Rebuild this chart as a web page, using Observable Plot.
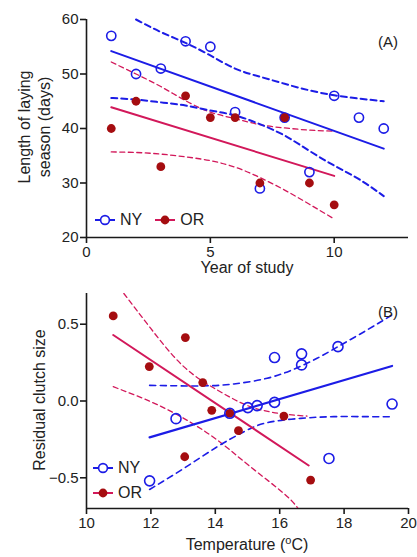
<!DOCTYPE html>
<html><head><meta charset="utf-8">
<script src="https://cdn.jsdelivr.net/npm/d3@7"></script>
<script src="https://cdn.jsdelivr.net/npm/@observablehq/plot@0.6"></script>
<style>
body{margin:0;background:#fff;font-family:"Liberation Sans",Arial,sans-serif;color:#222;}
.panel{position:relative;width:417px;overflow:hidden;}
.panel svg{display:block;}
.lab{position:absolute;font-size:16px;white-space:nowrap;line-height:20px;transform:translate(-50%,-50%);text-align:center;}
.rot{transform:translate(-50%,-50%) rotate(-90deg);}
.leg{position:absolute;display:flex;align-items:center;font-size:16px;transform:translateY(-50%);}
.leg svg{display:block;}
</style></head><body>
<div id="A" class="panel" style="height:280px"></div>
<div id="B" class="panel" style="height:277px"></div>
<script>
// ---------- Panel A: Length of laying season vs year of study ----------
const yearNY = [1,2,3,4,5,6,7,8,9,10,11,12];
const seasonNY = [57,50,51,56,55,43,29,42,32,46,42,40];
const yearOR = [1,2,3,4,5,6,7,8,9,10];
const seasonOR = [40,45,33,46,42,42,30,42,30,26];
const fitYearNY = [1,12];
const fitSeasonNY = [54.2,36.3];
const fitYearOR = [1,10];
const fitSeasonOR = [43.9,31.3];
const ciYearNYup = [2,3,4,5,6,7,8,9,10,11,12];
const ciSeasonNYup = [60,57.7,55.7,53.4,51.0,49.5,48.2,47.0,46.1,45.5,45.0];
const ciYearNYlo = [1,2,3,4,5,6,7,8,9,10,11,12];
const ciSeasonNYlo = [45.6,45.3,44.8,44.2,43.3,42.4,40.8,38.7,35.9,33.2,30.7,27.6];
const ciYearOR = [1,2,3,4,5,6,7,8,9,10];
const ciSeasonORup = [52.2,50.0,47.7,45.1,43.0,41.8,40.7,40.1,39.7,39.5];
const ciSeasonORlo = [35.7,35.6,35.3,34.8,34.1,32.9,31.0,28.7,26.1,23.4];
const xDomainA = [0,13];
const xTicksA = [0,5,10];
const yDomainA = [20,60];
const yTicksA = [20,30,40,50,60];

// ---------- Panel B: Residual clutch size vs temperature ----------
const tempNY = [11.96,12.78,14.45,15.01,15.30,15.84,15.84,16.68,16.68,17.81,17.53,19.49];
const clutchNY = [-0.52,-0.115,-0.08,-0.043,-0.03,-0.009,0.283,0.307,0.235,0.354,-0.374,-0.02];
const tempOR = [10.83,11.95,13.07,13.61,13.89,14.45,14.72,16.13,13.05,16.96];
const clutchOR = [0.554,0.224,0.413,0.12,-0.061,-0.08,-0.193,-0.098,-0.363,-0.515];
const fitTempNY = [11.96,19.49];
const fitClutchNY = [-0.237,0.228];
const fitTempOR = [10.83,16.9];
const fitClutchOR = [0.43,-0.42];
const ciTempNYup = [11.96,13.54,14.58,15.61,16.44,17.16,17.81,18.72,19.49];
const ciClutchNYup = [0.102,0.098,0.111,0.148,0.207,0.278,0.354,0.463,0.561];
const ciTempNYlo = [11.96,13.02,14.06,14.89,15.61,16.65,17.68,18.72,19.49];
const ciClutchNYlo = [-0.576,-0.439,-0.298,-0.2,-0.141,-0.113,-0.102,-0.102,-0.102];
const ciTempORup = [11.16,11.99,13.02,14.06,15.09,16.13,16.85];
const ciClutchORup = [0.70,0.474,0.224,0.072,-0.037,-0.085,-0.098];
const ciTempORlo = [10.83,11.99,13.02,14.06,15.09,16.13,16.57];
const ciClutchORlo = [0.093,-0.004,-0.113,-0.254,-0.428,-0.602,-0.70];
const xDomainB = [10,20];
const xTicksB = [10,12,14,16,18,20];
const yDomainB = [-0.7,0.7];
const yTicksB = [-0.5,0,0.5];

const BLUE = "#1c1ce6", ORLINE = "#d2185a", ORDOT = "#a50d10", INK = "#1a1a1a";
const pts = (xs, ys) => xs.map((x, i) => ({x, y: ys[i]}));

function axes(xDomain, xTicks, yDomain, yTicks, yFmt) {
  return [
    Plot.ruleX([xDomain[0]], {y1: yDomain[0], y2: yDomain[1], stroke: INK, strokeWidth: 1.6}),
    Plot.ruleY([yDomain[0]], {x1: xDomain[0], x2: xDomain[1], stroke: INK, strokeWidth: 1.6}),
    Plot.axisX({ticks: xTicks, tickSize: 6, tickPadding: 3, strokeWidth: 1.6, stroke: INK, fill: "#222", label: null}),
    Plot.axisY({ticks: yTicks, tickSize: 6, tickPadding: 2, strokeWidth: 1.6, stroke: INK, fill: "#222", label: null, tickFormat: yFmt})
  ];
}

const styleObj = {fontFamily: "Liberation Sans, Arial, sans-serif", fontSize: "15px", background: "white", overflow: "visible"};

const plotA = Plot.plot({
  width: 417, height: 280, marginLeft: 86, marginRight: 9, marginTop: 19, marginBottom: 43,
  style: styleObj,
  x: {domain: xDomainA},
  y: {domain: yDomainA},
  marks: [
    ...axes(xDomainA, xTicksA, yDomainA, yTicksA, d3.format("d")),
    Plot.line(pts(ciYearOR, ciSeasonORup), {x: "x", y: "y", stroke: ORLINE, strokeWidth: 1.3, strokeDasharray: "5,3.5", curve: "natural"}),
    Plot.line(pts(ciYearOR, ciSeasonORlo), {x: "x", y: "y", stroke: ORLINE, strokeWidth: 1.3, strokeDasharray: "5,3.5", curve: "natural"}),
    Plot.line(pts(ciYearNYup, ciSeasonNYup), {x: "x", y: "y", stroke: BLUE, strokeWidth: 2, strokeDasharray: "6,4", curve: "natural"}),
    Plot.line(pts(ciYearNYlo, ciSeasonNYlo), {x: "x", y: "y", stroke: BLUE, strokeWidth: 2, strokeDasharray: "6,4", curve: "natural"}),
    Plot.line(pts(fitYearOR, fitSeasonOR), {x: "x", y: "y", stroke: ORLINE, strokeWidth: 2}),
    Plot.line(pts(fitYearNY, fitSeasonNY), {x: "x", y: "y", stroke: BLUE, strokeWidth: 2}),
    Plot.dot(pts(yearNY, seasonNY), {x: "x", y: "y", r: 4.6, stroke: BLUE, strokeWidth: 1.6, fill: "none"}),
    Plot.dot(pts(yearOR, seasonOR), {x: "x", y: "y", r: 4.4, fill: ORDOT, stroke: "none"})
  ]
});

const plotB = Plot.plot({
  width: 417, height: 277, marginLeft: 86, marginRight: 9, marginTop: 13, marginBottom: 49,
  style: styleObj,
  x: {domain: xDomainB},
  y: {domain: yDomainB},
  marks: [
    ...axes(xDomainB, xTicksB, yDomainB, yTicksB, d3.format(".1f")),
    Plot.line(pts(ciTempORup, ciClutchORup), {x: "x", y: "y", stroke: ORLINE, strokeWidth: 1.3, strokeDasharray: "5,3.5", curve: "natural", clip: true}),
    Plot.line(pts(ciTempORlo, ciClutchORlo), {x: "x", y: "y", stroke: ORLINE, strokeWidth: 1.3, strokeDasharray: "5,3.5", curve: "natural", clip: true}),
    Plot.line(pts(ciTempNYup, ciClutchNYup), {x: "x", y: "y", stroke: BLUE, strokeWidth: 1.6, strokeDasharray: "6,4.5", curve: "natural"}),
    Plot.line(pts(ciTempNYlo, ciClutchNYlo), {x: "x", y: "y", stroke: BLUE, strokeWidth: 1.6, strokeDasharray: "6,4.5", curve: "natural"}),
    Plot.line(pts(fitTempOR, fitClutchOR), {x: "x", y: "y", stroke: ORLINE, strokeWidth: 2}),
    Plot.line(pts(fitTempNY, fitClutchNY), {x: "x", y: "y", stroke: BLUE, strokeWidth: 2.2}),
    Plot.dot(pts(tempOR, clutchOR), {x: "x", y: "y", r: 4.4, fill: ORDOT, stroke: "none"}),
    Plot.dot(pts(tempNY, clutchNY), {x: "x", y: "y", r: 5, stroke: BLUE, strokeWidth: 1.6, fill: "none"})
  ]
});

function legendItem(name, filled, color, dotColor) {
  const ns = "http://www.w3.org/2000/svg";
  const wrap = document.createElement("span");
  wrap.style.display = "inline-flex"; wrap.style.alignItems = "center";
  const s = document.createElementNS(ns, "svg");
  s.setAttribute("width", 20); s.setAttribute("height", 12);
  s.innerHTML = `<line x1="0" x2="20" y1="6" y2="6" stroke="${color}" stroke-width="2"/>` +
    (filled ? `<circle cx="10" cy="6" r="4.4" fill="${dotColor}"/>`
            : `<circle cx="10" cy="6" r="4.4" fill="white" stroke="${color}" stroke-width="1.6"/>`);
  const t = document.createElement("span");
  t.textContent = name; t.style.marginLeft = "5px";
  wrap.appendChild(s); wrap.appendChild(t);
  return wrap;
}

function addDiv(parent, cls, html, style) {
  const d = document.createElement("div");
  d.className = cls; d.innerHTML = html; Object.assign(d.style, style);
  parent.appendChild(d); return d;
}

const A = document.getElementById("A");
A.appendChild(plotA);
addDiv(A, "lab rot", "Length of laying<br>season (days)", {left: "35px", top: "127px"});
addDiv(A, "lab", "Year of study", {left: "247px", top: "268px"});
addDiv(A, "lab", "(A)", {left: "388px", top: "42px", fontSize: "15px"});
const legA = addDiv(A, "leg", "", {left: "95px", top: "220px"});
const nyA = legendItem("NY", false, BLUE, BLUE);
const orA = legendItem("OR", true, ORLINE, ORDOT); orA.style.marginLeft = "13px";
legA.appendChild(nyA); legA.appendChild(orA);

const B = document.getElementById("B");
B.appendChild(plotB);
addDiv(B, "lab rot", "Residual clutch size", {left: "40px", top: "120px"});
addDiv(B, "lab", "Temperature (<sup style=\"font-size:11px;line-height:0\">o</sup>C)", {left: "247px", top: "265px"});
addDiv(B, "lab", "(B)", {left: "388px", top: "32px", fontSize: "15px"});
const legB1 = addDiv(B, "leg", "", {left: "93px", top: "188px"});
legB1.appendChild(legendItem("NY", false, BLUE, BLUE));
const legB2 = addDiv(B, "leg", "", {left: "93px", top: "213px"});
legB2.appendChild(legendItem("OR", true, ORLINE, ORDOT));
</script>
</body></html>
